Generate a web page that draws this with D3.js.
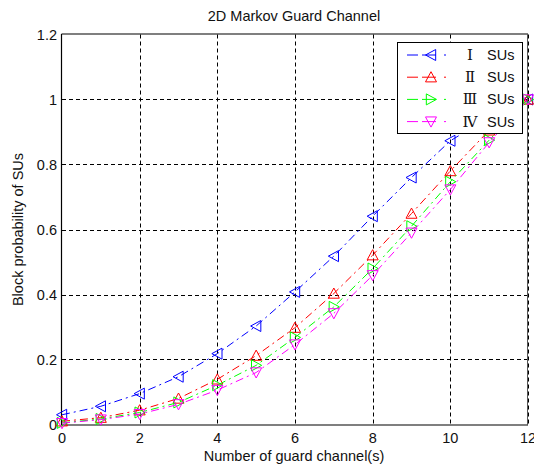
<!DOCTYPE html>
<html>
<head>
<meta charset="utf-8">
<script src="https://cdn.jsdelivr.net/npm/d3@7"></script>
<style>
  html, body { margin: 0; padding: 0; background: #fff; }
  svg { display: block; font-family: "Liberation Sans", Arial, sans-serif; }
  .tick-label { font-size: 14.5px; fill: #111; }
</style>
</head>
<body>
<div id="chart"></div>
<script>
// ---- data ----
const guardChannels = [0, 1, 2, 3, 4, 5, 6, 7, 8, 9, 10, 11, 12];
const suI   = [0.030, 0.056, 0.095, 0.147, 0.218, 0.303, 0.408, 0.518, 0.641, 0.760, 0.873, 0.945, 1.0];
const suII  = [0.010, 0.021, 0.044, 0.080, 0.139, 0.212, 0.298, 0.403, 0.521, 0.649, 0.780, 0.905, 1.0];
const suIII = [0.005, 0.017, 0.037, 0.068, 0.121, 0.182, 0.268, 0.362, 0.480, 0.610, 0.747, 0.875, 1.0];
const suIV  = [0.004, 0.015, 0.032, 0.062, 0.106, 0.160, 0.246, 0.342, 0.459, 0.590, 0.723, 0.868, 1.0];
const seriesNames = ["Ⅰ", "Ⅱ", "Ⅲ", "Ⅳ"];
const xTicks = [0, 2, 4, 6, 8, 10, 12];
const yTicks = [0, 0.2, 0.4, 0.6, 0.8, 1, 1.2];

const series = [
  { name: seriesNames[0], values: suI,   color: "#0000ff", marker: "left"  },
  { name: seriesNames[1], values: suII,  color: "#ff0000", marker: "up"    },
  { name: seriesNames[2], values: suIII, color: "#00ff00", marker: "right" },
  { name: seriesNames[3], values: suIV,  color: "#ff00ff", marker: "down"  }
];

// ---- layout ----
const W = 534, H = 469;
const L = 62, R = 528, T = 34.5, B = 424.5;
const DASHDOT = "8,4,2,4";

const svg = d3.select("#chart").append("svg")
  .attr("width", W).attr("height", H);

const x = d3.scaleLinear().domain([0, 12]).range([L, R]);
const y = d3.scaleLinear().domain([0, 1.2]).range([B, T]);

// triangle marker paths, r = half size
function markerPath(type, r) {
  const pts = {
    left:  [[-r, 0], [r * 0.85, -r], [r * 0.85, r]],
    right: [[r, 0], [-r * 0.85, -r], [-r * 0.85, r]],
    up:    [[0, -r], [-r, r * 0.85], [r, r * 0.85]],
    down:  [[0, r], [-r, -r * 0.85], [r, -r * 0.85]]
  }[type];
  return "M" + pts.map(p => p.join(",")).join("L") + "Z";
}

// grid
const grid = svg.append("g");
grid.selectAll("line.vg")
  .data(xTicks.filter(d => d > 0))
  .join("line")
  .attr("x1", d => Math.round(x(d)) + 0.5).attr("x2", d => Math.round(x(d)) + 0.5)
  .attr("y1", T).attr("y2", B)
  .attr("stroke", "#000").attr("stroke-width", 1)
  .attr("stroke-dasharray", "4,3");
grid.selectAll("line.hg")
  .data(yTicks.filter(d => d > 0 && d < 1.2))
  .join("line")
  .attr("x1", L).attr("x2", R)
  .attr("y1", d => Math.round(y(d)) + 0.5).attr("y2", d => Math.round(y(d)) + 0.5)
  .attr("stroke", "#000").attr("stroke-width", 1)
  .attr("stroke-dasharray", "4,3");

// axes box (left, bottom, top solid; right solid under dashed grid)
const box = svg.append("g").attr("stroke", "#000").attr("stroke-width", 1.2).attr("fill", "none");
box.append("line").attr("x1", L - 0.5).attr("x2", L - 0.5).attr("y1", T - 0.5).attr("y2", B + 0.5);
box.append("line").attr("x1", L - 0.5).attr("x2", R).attr("y1", B + 0.5).attr("y2", B + 0.5);
box.append("line").attr("x1", L - 0.5).attr("x2", R).attr("y1", T - 0.5).attr("y2", T - 0.5);
box.append("line").attr("x1", R - 0.5).attr("x2", R - 0.5).attr("y1", T - 0.5).attr("y2", B + 0.5)
  .attr("stroke", "#555").attr("stroke-width", 1);

// tick labels
svg.append("g").selectAll("text")
  .data(xTicks).join("text")
  .attr("class", "tick-label")
  .attr("x", d => x(d)).attr("y", 443)
  .attr("text-anchor", "middle")
  .text(d => d);
svg.append("g").selectAll("text")
  .data(yTicks).join("text")
  .attr("class", "tick-label")
  .attr("x", 57).attr("y", d => y(d) + 5)
  .attr("text-anchor", "end")
  .text(d => d3.format("~g")(d));

// titles
svg.append("text").attr("x", (L + R) / 2 - 1).attr("y", 21)
  .attr("text-anchor", "middle").style("font-size", "14.5px").attr("fill", "#111")
  .text("2D Markov Guard Channel");
svg.append("text").attr("x", (L + R) / 2 - 1).attr("y", 461)
  .attr("text-anchor", "middle").style("font-size", "14.5px").attr("fill", "#111")
  .text("Number of guard channel(s)");
svg.append("text")
  .attr("transform", `translate(23,${(T + B) / 2}) rotate(-90)`)
  .attr("text-anchor", "middle").style("font-size", "14.5px").attr("fill", "#111")
  .text("Block probability of SUs");

// series
const line = d3.line().x((d, i) => x(guardChannels[i])).y(d => y(d));
series.forEach(s => {
  const g = svg.append("g");
  g.append("path")
    .attr("d", line(s.values))
    .attr("fill", "none").attr("stroke", s.color)
    .attr("stroke-width", 1).attr("stroke-dasharray", DASHDOT);
  g.selectAll("path.m")
    .data(s.values).join("path")
    .attr("class", "m")
    .attr("transform", (d, i) => `translate(${x(guardChannels[i])},${y(d)})`)
    .attr("d", markerPath(s.marker, 5.5))
    .attr("fill", "none").attr("stroke", s.color).attr("stroke-width", 1);
});

// legend
const lg = svg.append("g");
lg.append("rect")
  .attr("x", 397.5).attr("y", 42.5).attr("width", 125).attr("height", 91)
  .attr("fill", "#fff").attr("stroke", "#000").attr("stroke-width", 1);
series.forEach((s, i) => {
  const ry = 55 + i * 22.2;
  lg.append("line")
    .attr("x1", 407).attr("x2", 456).attr("y1", ry).attr("y2", ry)
    .attr("stroke", s.color).attr("stroke-width", 1)
    .attr("stroke-dasharray", "11,4,14,8,2");
  lg.append("path")
    .attr("transform", `translate(431,${ry})`)
    .attr("d", markerPath(s.marker, 5.5))
    .attr("fill", "none").attr("stroke", s.color);
  lg.append("text")
    .attr("x", 470).attr("y", ry + 5)
    .attr("text-anchor", "middle")
    .style("font-family", "'Liberation Serif', 'DejaVu Serif', serif")
    .style("font-size", "15px").attr("fill", "#111")
    .text(s.name);
  lg.append("text")
    .attr("x", 487).attr("y", ry + 5)
    .style("font-size", "14.5px").attr("fill", "#111")
    .text("SUs");
});
</script>
</body>
</html>
